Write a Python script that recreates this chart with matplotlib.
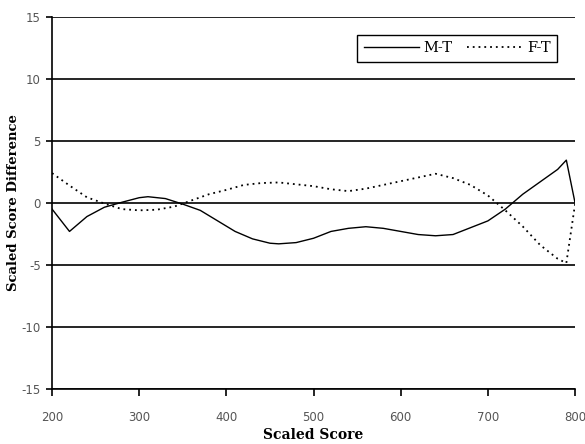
import matplotlib
matplotlib.use('Agg')
import matplotlib.pyplot as plt

plt.rcParams['axes.unicode_minus'] = False

# scaled scores and differences
scores = [200, 220, 240, 260, 280, 300, 310, 330, 350, 370, 390, 410, 430, 450, 460,
          480, 500, 520, 540, 560, 580, 600, 620, 640, 660, 680, 700, 720, 740, 760,
          780, 790, 800]
m_t = [-0.5, -2.3, -1.1, -0.35, 0.05, 0.42, 0.5, 0.35, -0.1, -0.6, -1.45, -2.3, -2.9,
       -3.25, -3.3, -3.2, -2.85, -2.3, -2.05, -1.92, -2.05, -2.3, -2.55, -2.65, -2.55,
       -2.0, -1.45, -0.5, 0.7, 1.7, 2.7, 3.45, 0.0]

scores_f = [200, 220, 240, 260, 280, 300, 320, 340, 360, 380, 400, 420, 440, 460, 480,
            500, 520, 540, 560, 580, 600, 620, 640, 660, 680, 700, 720, 740, 760, 780,
            790, 800]
f_t = [2.4, 1.4, 0.45, -0.05, -0.5, -0.6, -0.55, -0.3, 0.2, 0.7, 1.05, 1.45, 1.6, 1.65,
       1.5, 1.35, 1.1, 0.95, 1.15, 1.45, 1.75, 2.05, 2.35, 2.0, 1.45, 0.6, -0.6, -1.9,
       -3.4, -4.5, -4.85, -0.1]

x_ticks = [200, 300, 400, 500, 600, 700, 800]
y_ticks = [-15, -10, -5, 0, 5, 10, 15]

fig = plt.figure(figsize=(5.85, 4.44), dpi=100)
ax = fig.add_axes([0.089, 0.124, 0.894, 0.838])

# horizontal grid lines
for y in y_ticks:
    ax.axhline(y, color='black', linewidth=1.2, zorder=1)

ax.plot(scores, m_t, color='black', linewidth=1.0, label='M-T', zorder=3)
ax.plot(scores_f, f_t, color='black', linewidth=1.3, linestyle=(0, (1, 2.2)), label='F-T', zorder=3)

ax.set_xlim(200, 800)
ax.set_ylim(-15, 15)
ax.set_xticks(x_ticks)
ax.set_yticks(y_ticks)
ax.tick_params(axis='x', direction='out', length=5, width=1.2, pad=11,
               labelsize=8.5, labelcolor='#555555')
ax.tick_params(axis='y', direction='out', length=4, width=1.2, pad=4,
               labelsize=8.5, labelcolor='#555555')

for side in ['top', 'right']:
    ax.spines[side].set_visible(False)
for side in ['left', 'bottom']:
    ax.spines[side].set_linewidth(1.2)

ax.set_xlabel('Scaled Score', family='DejaVu Serif', fontweight='bold', fontsize=10, labelpad=3)
ax.set_ylabel('Scaled Score Difference', family='DejaVu Serif', fontweight='bold', fontsize=9.5, labelpad=1)

leg = ax.legend(ncol=2, loc='upper right', bbox_to_anchor=(0.966, 0.952), frameon=True,
                fancybox=False, edgecolor='black', framealpha=1,
                prop={'family': 'DejaVu Serif', 'size': 10.5},
                handlelength=3.8, columnspacing=1.0, handletextpad=0.3,
                borderpad=0.45, borderaxespad=0)
leg.get_frame().set_linewidth(1.0)

fig.savefig('out.png', dpi=100)
